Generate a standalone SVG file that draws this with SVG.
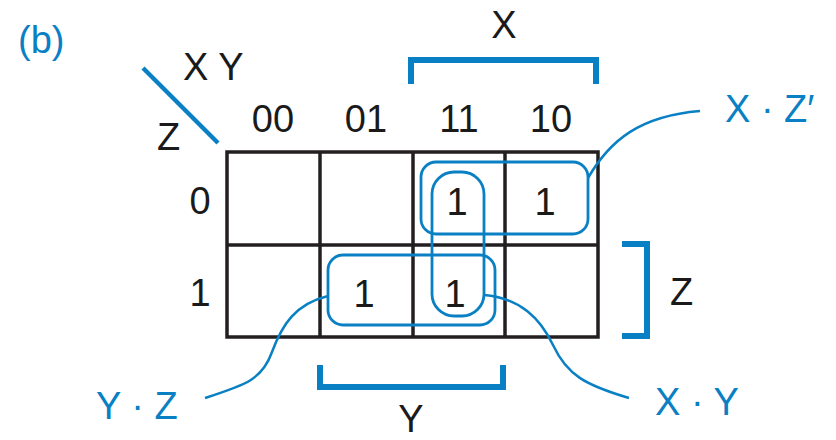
<svg xmlns="http://www.w3.org/2000/svg" width="836" height="440" viewBox="0 0 836 440">
<style>
.t{font-family:"Liberation Sans",Arial,sans-serif;font-size:38px;fill:#1a1a1a}
.b{font-family:"Liberation Sans",Arial,sans-serif;font-size:38px;fill:#0A80C4}
.m{text-anchor:middle}
.grid{fill:none;stroke:#231F20;stroke-width:3.5}
.loop{fill:none;stroke:#0A80C4;stroke-width:2.8}
.conn{fill:none;stroke:#0A80C4;stroke-width:2.5}
.br{fill:none;stroke:#0A80C4;stroke-width:6}
</style>
<rect width="836" height="440" fill="#ffffff"/>
<text class="b" x="18" y="53">(b)</text>
<g id="header">
<line x1="143" y1="68" x2="218" y2="143" stroke="#0A80C4" stroke-width="4.5"/>
<text class="t" x="183" y="80">X Y</text>
<text class="t" x="157" y="150">Z</text>
<text class="t m" x="273" y="132">00</text>
<text class="t m" x="366" y="132">01</text>
<text class="t m" x="459" y="132">11</text>
<text class="t m" x="551" y="132">10</text>
<text class="t m" x="200" y="214">0</text>
<text class="t m" x="200" y="306">1</text>
</g>
<g id="kmap">
<rect class="grid" x="227" y="152" width="371" height="185"/>
<line class="grid" x1="320" y1="152" x2="320" y2="337"/>
<line class="grid" x1="413" y1="152" x2="413" y2="337"/>
<line class="grid" x1="505" y1="152" x2="505" y2="337"/>
<line class="grid" x1="227" y1="245" x2="598" y2="245"/>
<text class="t m" x="457" y="215">1</text>
<text class="t m" x="545" y="215">1</text>
<text class="t m" x="364" y="307">1</text>
<text class="t m" x="455" y="307">1</text>
</g>
<g id="loops">
<rect id="loop-xz" class="loop" x="421" y="162" width="167" height="72" rx="15"/>
<rect id="loop-xy" class="loop" x="432" y="172" width="52" height="144" rx="22"/>
<rect id="loop-yz" class="loop" x="328" y="255" width="167" height="70" rx="15"/>
</g>
<g id="brackets">
<path class="br" d="M411,84 V60 H596 V84"/>
<text class="t m" x="504" y="38">X</text>
<path class="br" d="M622,244 H647 V336 H622"/>
<text class="t" x="670" y="305">Z</text>
<path class="br" d="M320,365 V387 H503 V365"/>
<text class="t m" x="411" y="432">Y</text>
</g>
<g id="connectors">
<path class="conn" d="M588,178 C610,140 640,116 700,111"/>
<path class="conn" d="M328,296 C295,304 282,325 272,352 C262,380 245,385 205,398"/>
<path class="conn" d="M484,295 C520,298 540,318 553,345 C567,375 585,385 629,398"/>
</g>
<g id="labels">
<text class="b" x="725" y="122">X · Z′</text>
<text class="b" x="96" y="419">Y · Z</text>
<text class="b" x="655" y="415">X · Y</text>
</g>
</svg>
